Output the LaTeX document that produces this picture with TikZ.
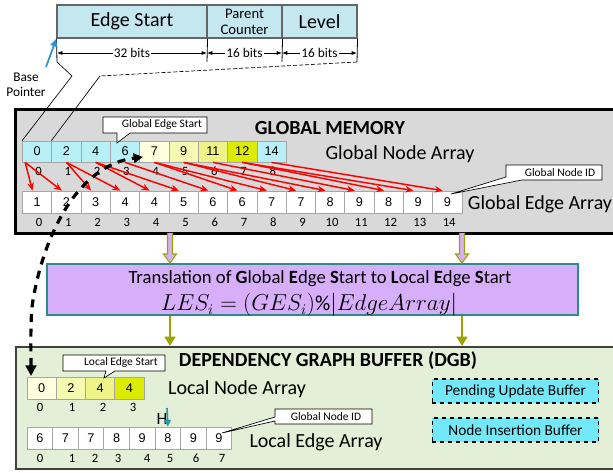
\documentclass[tikz,border=0pt]{standalone}
\usepackage{fontspec}
\setmainfont{Carlito}
\newfontfamily\arialf{Liberation Sans}
\usetikzlibrary{arrows.meta}
\definecolor{structblue}{HTML}{C5E8F0}
\definecolor{ncyan}{HTML}{B8F0F8}
\definecolor{ya}{HTML}{FFFFE0}
\definecolor{yb}{HTML}{F6F9B0}
\definecolor{yc}{HTML}{EEF488}
\definecolor{yd}{HTML}{DCEB00}
\definecolor{memgray}{HTML}{D9D9D9}
\definecolor{dgbg}{HTML}{E3EFD6}
\definecolor{lavender}{HTML}{D6AEFA}
\definecolor{tealb}{HTML}{2B8C8C}
\definecolor{olivec}{HTML}{9CA500}
\definecolor{bufc}{HTML}{72E8F8}
\definecolor{tealarrc}{HTML}{2897A6}
\definecolor{bluearrc}{HTML}{2C93CE}
\tikzset{
  scell/.style={draw=black!60, line width=0.8pt, fill=structblue, inner sep=0pt, minimum height=24.75pt},
  biglabel/.style={font=\fontsize{15}{17}\selectfont, inner sep=0pt},
  bigtitle/.style={font=\bfseries\fontsize{15}{17}\selectfont, inner sep=0pt},
  gcell/.style={draw=black!35, line width=0.6pt, inner sep=0pt, minimum width=21.98pt, minimum height=15.75pt, font=\arialf\fontsize{9.5}{10}\selectfont},
  ecell/.style={gcell, fill=white, minimum height=16.5pt},
  lecell/.style={gcell, fill=white, minimum width=19.2pt, minimum height=16.5pt},
  idx/.style={font=\fontsize{9.5}{10}\selectfont, inner sep=0pt},
  callout/.style={draw=black, line width=0.5pt, fill=white},
  calltext/.style={font=\fontsize{8.6}{10}\selectfont, inner sep=0pt},
  dimarr/.style={line width=0.5pt, {Latex[length=4pt,width=3pt]}-{Latex[length=4pt,width=3pt]}},
  dimtext/.style={font=\fontsize{10}{12}\selectfont, fill=white, inner sep=1pt},
  redarr/.style={red, line width=1.1pt, -{Stealth[length=6pt,width=5pt]}},
  bigdash/.style={black, line width=2.4pt, dash pattern=on 6pt off 5pt, {Triangle[length=8pt,width=8pt]}-{Triangle[length=7pt,width=7pt]}},
  olivearr/.style={olivec, line width=2pt, -{Triangle[length=7pt,width=8pt]}},
  hollow/.style={olivec, line width=0.8pt, fill=lavender},
  buf/.style={draw=black, dashed, line width=0.8pt, fill=bufc, minimum width=125pt, minimum height=18pt, inner sep=0pt, font=\fontsize{11.5}{13}\selectfont},
}
\begin{document}
\begin{tikzpicture}[x=0.75pt,y=-0.75pt]
\useasboundingbox (0,0) rectangle (613,473);
\begin{scope}
\clip (0,0) rectangle (613,473);

% ---------- struct ----------
\node[scell, minimum width=112.5pt, font=\fontsize{15}{17}\selectfont] (es) at (132,21.5) {Edge Start};
\node[scell, minimum width=56.25pt, font=\fontsize{11}{13}\selectfont, align=center] (pc) at (244.5,21.5) {Parent\\[-1pt]Counter};
\node[scell, minimum width=56.25pt, font=\fontsize{15}{17}\selectfont] (lv) at (319.5,21.5) {Level};

\coordinate (t0) at (57,62);
\coordinate (t1) at (207,62);
\coordinate (t2) at (282,62);
\coordinate (t3) at (357,62);
\draw[line width=0.6pt] (es.south west) -- (t0);
\draw[line width=0.6pt] (es.south east) -- (t1);
\draw[line width=0.6pt] (pc.south east) -- (t2);
\draw[line width=0.6pt] (lv.south east) -- (t3);
\coordinate (d0) at (57,53);
\coordinate (d1) at (207,53);
\coordinate (d2) at (282,53);
\coordinate (d3) at (357,53);
\draw[dimarr] (d0) -- (d1) node[midway, dimtext] (b32) {32 bits};
\draw[dimarr] (d1) -- (d2) node[midway, dimtext] (b16a) {16 bits};
\draw[dimarr] (d2) -- (d3) node[midway, dimtext] (b16b) {16 bits};

% base pointer
\node[align=center, font=\fontsize{10}{11.5}\selectfont, inner sep=0pt] (bp) at (26,85) {Base\\Pointer};
\coordinate (bps) at (46,67);
\draw[bluearrc, line width=1.3pt, -{Triangle[length=6pt,width=5pt]}] (bps) -- (es.south west);

% ---------- global memory ----------
\node[draw=black, line width=2pt, fill=memgray, anchor=north west, minimum width=469.5pt, minimum height=93pt, inner sep=0pt] (gmem) at (14,108) {};
\node[bigtitle] (gmt) at (330,128) {GLOBAL MEMORY};
\node[biglabel] (gna) at (400,154) {Global Node Array};
\node[biglabel] (gea) at (540,204) {Global Edge Array};

\foreach \v/\c [count=\i from 0] in {0/ncyan,2/ncyan,4/ncyan,6/ncyan,7/ya,9/yb,11/yc,12/yd,14/ncyan}{
  \node[gcell, fill=\c] (g\i) at ({37.15+29.3*\i},151.5) {\v};
  \node[idx] (gi\i) at ({38.5+29.3*\i},171) {\i};
}
\foreach \v [count=\i from 0] in {1,2,3,4,4,5,6,6,7,7,8,9,8,9,9}{
  \node[ecell] (e\i) at ({37.15+29.3*\i},202) {\v};
  \node[idx] (ei\i) at ({39+29.3*\i},222) {\i};
}

% lines from struct to memory
\coordinate (k1) at (72,76);
\coordinate (k2) at (100,76);
\draw[line width=0.5pt] (t0) -- (k1) -- (g0.north west);
\draw[line width=0.5pt] (k2) -- (g1.north west);
\draw[line width=0.5pt, dash pattern=on 3pt off 1.5pt] (t3) -- (k2);

% red arrows
\foreach \e in {0,1}{
  \draw[redarr] ([xshift=-9pt]g0.south) -- ([xshift=-3.5pt]e\e.north);
}
\foreach \n/\e in {1/2,1/3,2/4,2/5,3/6,4/7,4/8,5/9,5/10,6/11,7/12,7/13,8/14}{
  \draw[redarr] (g\n.south) -- ([xshift=-3.5pt]e\e.north);
}

% callouts in memory
\draw[callout] (103,117) -- (207,117) -- (207,133) -- (130,133) -- (117,143) -- (117,133) -- (103,133) -- cycle;
\node[calltext] (ges) at (162,125) {Global Edge Start};
\draw[callout] (506,165) -- (602,165) -- (602,180) -- (522,180) -- (451,194) -- (506,177) -- cycle;
\node[calltext] (gnid) at (560,172.5) {Global Node ID};

% ---------- translation ----------
\node[draw=tealb, line width=1.2pt, fill=lavender, minimum width=398.25pt, minimum height=38.25pt, inner sep=0pt] (trans) at (312.5,289.5) {};
\node[font=\fontsize{14}{15}\selectfont, inner sep=0pt] (tt) at (320,279) {Translation of \textbf{G}lobal \textbf{E}dge \textbf{S}tart to \textbf{L}ocal \textbf{E}dge \textbf{S}tart};
\node[font=\fontsize{16}{18}\selectfont, inner sep=0pt] (eq) at (309,305) {$LES_i = (GES_i)\%|EdgeArray|$};

\foreach \xx in {170,462}{
  \draw[hollow, shift={(\xx,233)}] (-2.5,0) -- (-2.5,21) -- (-6.5,21) -- (0,30) -- (6.5,21) -- (2.5,21) -- (2.5,0);
}
\coordinate (oa1) at (170,316);
\coordinate (ob1) at (170,346);
\coordinate (oa2) at (462,316);
\coordinate (ob2) at (462,346);
\draw[olivearr] (oa1) -- (ob1);
\draw[olivearr] (oa2) -- (ob2);

% ---------- DGB ----------
\node[draw=black!75, line width=1.5pt, fill=dgbg, anchor=north west, minimum width=465pt, minimum height=91.5pt, inner sep=0pt] (dgb) at (15,346) {};
\node[bigtitle] (dgbt) at (328,361) {DEPENDENCY GRAPH BUFFER (DGB)};
\node[biglabel] (lna) at (237,389) {Local Node Array};
\node[biglabel] (lea) at (316,442) {Local Edge Array};

\foreach \v/\c [count=\i from 0] in {0/ya,2/yb,4/yc,4/yd}{
  \node[gcell, fill=\c, minimum height=16.5pt] (l\i) at ({41.6+29.25*\i},388) {\v};
}
\foreach \i/\xx in {0/40,1/72,2/103,3/133}{
  \node[idx] (li\i) at (\xx,407) {\i};
}
\foreach \v [count=\i from 0] in {6,7,7,8,9,8,9,9}{
  \node[lecell] (le\i) at ({39.8+25.6*\i},438) {\v};
}
\foreach \i/\xx in {0/40,1/72,2/95,3/118,4/147,5/170,6/196,7/222}{
  \node[idx] (lei\i) at (\xx,458) {\i};
}

\draw[callout] (63,355) -- (165,355) -- (165,371) -- (115,371) -- (104,378) -- (106,371) -- (63,371) -- cycle;
\node[calltext] (les) at (121,363) {Local Edge Start};
\draw[callout] (275,409) -- (372,409) -- (372,424) -- (275,424) -- (275,421) -- (222,433) -- (275,417) -- cycle;
\node[calltext] (lgnid) at (326,416.5) {Global Node ID};

\node[font=\fontsize{13}{15}\selectfont, inner sep=0pt] (hh) at (162,419) {H};
\coordinate (hs) at (167,408);
\draw[tealarrc, line width=1.2pt, -{Triangle[length=5pt,width=5pt]}] (hs) -- (le5.north);

\node[buf] (pub) at (515.5,391) {Pending Update Buffer};
\node[buf] (nib) at (515.5,430) {Node Insertion Buffer};

% ---------- big dashed arrow ----------
\coordinate (dtop) at (143,157);
\coordinate (dmid) at (33,300);
\coordinate (dbot) at (31,376);
\draw[bigdash] (dbot) .. controls (31,350) and (30,318) .. (dmid) .. controls (45,230) and (80,165) .. (dtop);

\end{scope}
\end{tikzpicture}
\end{document}
